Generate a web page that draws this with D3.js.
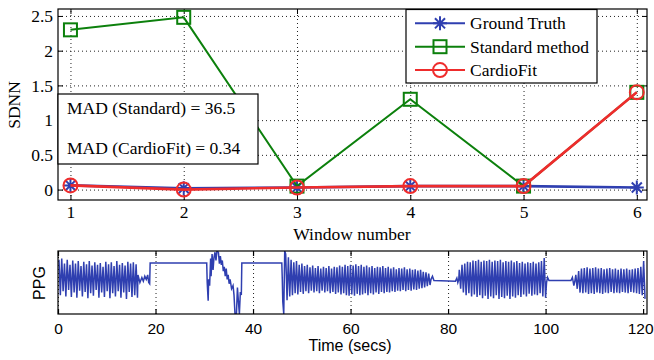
<!DOCTYPE html>
<html>
<head>
<meta charset="utf-8">
<script src="https://cdn.jsdelivr.net/npm/d3@7"></script>
<style>
  html, body { margin: 0; padding: 0; background: #fff; }
  svg { display: block; }
</style>
</head>
<body>
<svg id="chart" width="654" height="360"></svg>
<script>
// ---------------- DATA ----------------
const windows = [1, 2, 3, 4, 5, 6];
const groundTruth    = [0.06, 0.02, 0.03, 0.05, 0.05, 0.03];
const standardMethod = [2.30, 2.48, 0.05, 1.30, 0.05, 1.40];
const cardioFit      = [0.06, 0.00, 0.03, 0.05, 0.05, 1.40];
const seriesNames = ["Ground Truth", "Standard method", "CardioFit"];
const sdnnTicks = [0, 0.5, 1, 1.5, 2, 2.5];
const timeTicks = [0, 20, 40, 60, 80, 100, 120];
const madLabels = ["MAD (Standard) = 36.5", "MAD (CardioFit) = 0.34"];

// PPG: oscillating segments given as alternating peak/trough values
const ppgSpans = [[0.2, 16.3], [46.7, 76.3], [82.3, 100.0], [106.2, 120.4]];
const ppgSegA = [0.86,0.30, 0.88,0.36, 0.80,0.28, 0.86,0.38, 0.78,0.27, 0.85,0.34, 0.80,0.26, 0.84,0.37,
  0.76,0.28, 0.83,0.35, 0.79,0.25, 0.84,0.33, 0.77,0.29, 0.82,0.38, 0.78,0.26, 0.81,0.34, 0.75,0.27,
  0.83,0.36, 0.79,0.25, 0.82,0.33, 0.76,0.28, 0.84,0.36, 0.78,0.26, 0.81,0.34, 0.77,0.24, 0.83,0.35,
  0.80,0.27, 0.82,0.30, 0.79,0.26];
const ppgSegB = [0.95,0.22, 0.90,0.28, 0.86,0.30, 0.82,0.33, 0.84,0.31, 0.78,0.35, 0.80,0.32, 0.76,0.36,
  0.78,0.33, 0.74,0.37, 0.77,0.34, 0.73,0.36, 0.76,0.33, 0.72,0.37, 0.75,0.34, 0.73,0.36, 0.76,0.33,
  0.72,0.35, 0.75,0.32, 0.74,0.34, 0.77,0.31, 0.75,0.33, 0.78,0.30, 0.76,0.29, 0.78,0.31, 0.77,0.29,
  0.79,0.32, 0.76,0.30, 0.78,0.31, 0.75,0.33, 0.77,0.30, 0.74,0.33, 0.76,0.31, 0.73,0.34, 0.75,0.32,
  0.74,0.35, 0.76,0.33, 0.73,0.35, 0.75,0.34, 0.72,0.36, 0.74,0.35, 0.71,0.37, 0.73,0.36, 0.72,0.38,
  0.74,0.36, 0.71,0.38, 0.72,0.37, 0.70,0.39, 0.71,0.38, 0.69,0.40, 0.70,0.41, 0.67,0.42, 0.66,0.44,
  0.64,0.46];
const ppgSegC = [0.70,0.40, 0.78,0.34, 0.80,0.30, 0.83,0.33, 0.82,0.28, 0.85,0.31, 0.84,0.27, 0.86,0.30,
  0.83,0.25, 0.85,0.29, 0.84,0.24, 0.86,0.28, 0.83,0.25, 0.85,0.30, 0.84,0.24, 0.86,0.27, 0.82,0.25,
  0.84,0.29, 0.83,0.24, 0.85,0.28, 0.82,0.26, 0.84,0.30, 0.81,0.27, 0.83,0.31, 0.80,0.28, 0.82,0.32,
  0.81,0.29, 0.83,0.31, 0.80,0.30, 0.82,0.33, 0.84,0.28, 0.89,0.26];
const ppgSegD = [0.62,0.40, 0.68,0.34, 0.72,0.33, 0.73,0.34, 0.74,0.32, 0.72,0.33, 0.73,0.32, 0.74,0.34,
  0.72,0.33, 0.73,0.32, 0.71,0.34, 0.72,0.33, 0.73,0.35, 0.71,0.33, 0.72,0.34, 0.70,0.33, 0.72,0.35,
  0.71,0.34, 0.72,0.33, 0.70,0.35, 0.71,0.34, 0.72,0.33, 0.73,0.32, 0.75,0.30, 0.84,0.24];
// irregular parts between the segments: [time, value]
const ppgGap1 = [[16.4,0.62],[16.8,0.50],[17.2,0.58],[17.5,0.52],[17.8,0.60],[18.1,0.55],[18.4,0.62],
  [18.6,0.50],[18.8,0.48],[18.9,0.81],[30.5,0.81],[30.6,0.50],[30.8,0.21],[30.9,0.55],[31.1,0.45],
  [31.3,0.88],[31.4,0.60],[31.6,0.95],[31.8,0.70],[32.0,0.90],[32.2,0.98],[32.4,0.85],[32.6,1.0],
  [32.9,0.98],[33.1,0.80],[33.3,0.92],[33.5,0.78],[33.7,0.85],[33.9,0.68],[34.1,0.75],[34.3,0.60],
  [34.5,0.72],[34.7,0.55],[34.9,0.62],[35.1,0.48],[35.3,0.55],[35.6,0.40],[35.9,0.45],[36.1,0.30],
  [36.3,0.0],[36.6,0.0],[36.8,0.42],[37.0,0.20],[37.2,0.0],[37.4,0.35],[37.6,0.30],[37.7,0.81],
  [45.9,0.81],[46.0,0.55],[46.1,0.20],[46.3,0.0],[46.5,1.0]];
const ppgGap2 = [[76.5,0.55],[76.8,0.60],[77.1,0.53],[81.5,0.52],[81.8,0.57],[82.0,0.50],[82.2,0.55]];
const ppgGap3 = [[100.2,0.50],[100.4,0.58],[100.7,0.53],[105.2,0.53],[105.5,0.58],[105.8,0.45],[106.0,0.52]];

// ---------------- STYLE ----------------
const BLUE = "#2f3fb0", GREEN = "#0c800c", RED = "#ee2c2c";
const SERIF = "'Liberation Serif','Times New Roman',serif";
const SANS = "'Liberation Sans',Arial,sans-serif";

const svg = d3.select("#chart");

// ---------------- TOP PLOT ----------------
const T = {left: 58, right: 647, top: 9, bottom: 200};
const x = d3.scaleLinear().domain([0.89, 6.09]).range([T.left, T.right]);
const y = d3.scaleLinear().domain([-0.15, 2.6]).range([T.bottom, T.top]);

const topG = svg.append("g");
// grid
topG.append("g").attr("transform", `translate(0,${T.bottom})`)
  .call(d3.axisBottom(x).tickValues(windows).tickSize(-(T.bottom - T.top)).tickFormat(""))
  .call(g => g.select(".domain").remove())
  .selectAll("line").attr("stroke", "#222").attr("stroke-dasharray", "1,3");
topG.append("g").attr("transform", `translate(${T.left},0)`)
  .call(d3.axisLeft(y).tickValues(sdnnTicks).tickSize(-(T.right - T.left)).tickFormat(""))
  .call(g => g.select(".domain").remove())
  .selectAll("line").attr("stroke", "#222").attr("stroke-dasharray", "1,3");

// axes with inward ticks
const axB = topG.append("g").attr("transform", `translate(0,${T.bottom})`)
  .call(d3.axisBottom(x).tickValues(windows).tickSize(-5).tickPadding(6).tickFormat(d3.format("d")));
const axL = topG.append("g").attr("transform", `translate(${T.left},0)`)
  .call(d3.axisLeft(y).tickValues(sdnnTicks).tickSize(-5).tickPadding(5).tickFormat(d => String(d)));
topG.append("g").attr("transform", `translate(0,${T.top})`)
  .call(d3.axisTop(x).tickValues(windows).tickSize(-5).tickFormat(""));
topG.append("g").attr("transform", `translate(${T.right},0)`)
  .call(d3.axisRight(y).tickValues(sdnnTicks).tickSize(-5).tickFormat(""));
topG.selectAll(".domain").remove();
topG.selectAll(".tick line").filter(function(){ return this.getAttribute("stroke-dasharray") === null; })
  .attr("stroke", "#000");
[axB, axL].forEach(a => a.selectAll("text").attr("font-family", SERIF).attr("font-size", 17.5).attr("fill", "#000"));

// box
topG.append("rect").attr("x", T.left).attr("y", T.top)
  .attr("width", T.right - T.left).attr("height", T.bottom - T.top)
  .attr("fill", "none").attr("stroke", "#000").attr("stroke-width", 1.2);

// series
const line = d3.line().x((d, i) => x(windows[i])).y(d => y(d));
function asteriskPath(s) {
  const d = s * 0.72;
  return `M${-s},0H${s}M0,${-s}V${s}M${-d},${-d}L${d},${d}M${-d},${d}L${d},${-d}`;
}
function drawMarker(g, type, cx, cy, color) {
  if (type === "star") {
    g.append("path").attr("d", asteriskPath(7)).attr("transform", `translate(${cx},${cy})`)
      .attr("stroke", color).attr("stroke-width", 2).attr("fill", "none");
  } else if (type === "square") {
    g.append("rect").attr("x", cx - 6.5).attr("y", cy - 6.5).attr("width", 13).attr("height", 13)
      .attr("stroke", color).attr("stroke-width", 2).attr("fill", "none");
  } else {
    g.append("circle").attr("cx", cx).attr("cy", cy).attr("r", 7)
      .attr("stroke", color).attr("stroke-width", 2).attr("fill", "none");
  }
}
const series = [
  {name: seriesNames[0], values: groundTruth, color: BLUE, marker: "star", width: 2.6},
  {name: seriesNames[1], values: standardMethod, color: GREEN, marker: "square", width: 2},
  {name: seriesNames[2], values: cardioFit, color: RED, marker: "circle", width: 2.6}
];
series.forEach(s => {
  const g = topG.append("g");
  g.append("path").datum(s.values).attr("d", line).attr("fill", "none")
    .attr("stroke", s.color).attr("stroke-width", s.width);
  s.values.forEach((v, i) => drawMarker(g, s.marker, x(windows[i]), y(v), s.color));
});

// MAD box
const mad = topG.append("g");
mad.append("rect").attr("x", T.left).attr("y", 94).attr("width", 200).attr("height", 70)
  .attr("fill", "#fff").attr("stroke", "#000").attr("stroke-width", 1.2);
madLabels.forEach((t, i) => {
  mad.append("text").attr("x", 67).attr("y", 114 + i * 40).text(t)
    .attr("font-family", SERIF).attr("font-size", 17.5).attr("fill", "#000");
});

// legend
const leg = topG.append("g");
leg.append("rect").attr("x", 406).attr("y", 9.5).attr("width", 191).attr("height", 73.5)
  .attr("fill", "#fff").attr("stroke", "#000").attr("stroke-width", 1.2);
series.forEach((s, i) => {
  const cy = 23.3 + i * 23.4;
  leg.append("line").attr("x1", 415).attr("x2", 465).attr("y1", cy).attr("y2", cy)
    .attr("stroke", s.color).attr("stroke-width", 2);
  drawMarker(leg, s.marker, 440, cy, s.color);
  leg.append("text").attr("x", 470).attr("y", cy + 6).text(s.name)
    .attr("font-family", SERIF).attr("font-size", 17.5).attr("fill", "#000");
});

// labels
svg.append("text").attr("x", 352).attr("y", 240).attr("text-anchor", "middle")
  .attr("font-family", SERIF).attr("font-size", 17.5).text("Window number");
svg.append("text").attr("transform", "translate(20,105) rotate(-90)").attr("text-anchor", "middle")
  .attr("font-family", SERIF).attr("font-size", 17.5).text("SDNN");

// ---------------- BOTTOM PLOT ----------------
const B = {left: 58, right: 647, top: 251, bottom: 314};
const xt = d3.scaleLinear().domain([0, 120.8]).range([B.left, B.right]);
const yp = d3.scaleLinear().domain([0, 1]).range([B.bottom, B.top]);

const bot = svg.append("g");
bot.append("g").attr("transform", `translate(0,${B.bottom})`)
  .call(d3.axisBottom(xt).tickValues(timeTicks).tickSize(-(B.bottom - B.top)).tickFormat(""))
  .call(g => g.select(".domain").remove())
  .selectAll("line").attr("stroke", "#222").attr("stroke-dasharray", "1,3");

// build PPG points
function segPoints(vals, span) {
  const n = vals.length;
  return vals.map((v, i) => [span[0] + i * (span[1] - span[0]) / (n - 1), v]);
}
const ppg = [].concat(
  segPoints(ppgSegA, ppgSpans[0]), ppgGap1,
  segPoints(ppgSegB, ppgSpans[1]), ppgGap2,
  segPoints(ppgSegC, ppgSpans[2]), ppgGap3,
  segPoints(ppgSegD, ppgSpans[3])
);
svg.append("clipPath").attr("id", "clipB").append("rect")
  .attr("x", B.left).attr("y", B.top).attr("width", B.right - B.left).attr("height", B.bottom - B.top);
bot.append("path").datum(ppg).attr("clip-path", "url(#clipB)")
  .attr("d", d3.line().x(d => xt(d[0])).y(d => yp(d[1])))
  .attr("fill", "none").attr("stroke", BLUE).attr("stroke-width", 1.5).attr("stroke-linejoin", "miter");

const bAx = bot.append("g").attr("transform", `translate(0,${B.bottom})`)
  .call(d3.axisBottom(xt).tickValues(timeTicks).tickSize(-5).tickPadding(8.5).tickFormat(d3.format("d")));
bot.append("g").attr("transform", `translate(0,${B.top})`)
  .call(d3.axisTop(xt).tickValues(timeTicks).tickSize(-5).tickFormat(""));
bot.selectAll(".domain").remove();
bot.selectAll(".tick line").filter(function(){ return this.getAttribute("stroke-dasharray") === null; })
  .attr("stroke", "#000").attr("stroke-width", 1.2);
bAx.selectAll("text").attr("font-family", SANS).attr("font-size", 15.5).attr("fill", "#000");
// keep the last label ("120") inside the picture
bAx.selectAll("text").filter(d => d === timeTicks[timeTicks.length - 1])
  .attr("text-anchor", "end").attr("x", 10);
bot.append("rect").attr("x", B.left).attr("y", B.top)
  .attr("width", B.right - B.left).attr("height", B.bottom - B.top)
  .attr("fill", "none").attr("stroke", "#000").attr("stroke-width", 1.2);

svg.append("text").attr("x", 350).attr("y", 351).attr("text-anchor", "middle")
  .attr("font-family", SANS).attr("font-size", 16).text("Time (secs)");
svg.append("text").attr("transform", "translate(45,283) rotate(-90)").attr("text-anchor", "middle")
  .attr("font-family", SANS).attr("font-size", 16).text("PPG");
</script>
</body>
</html>
